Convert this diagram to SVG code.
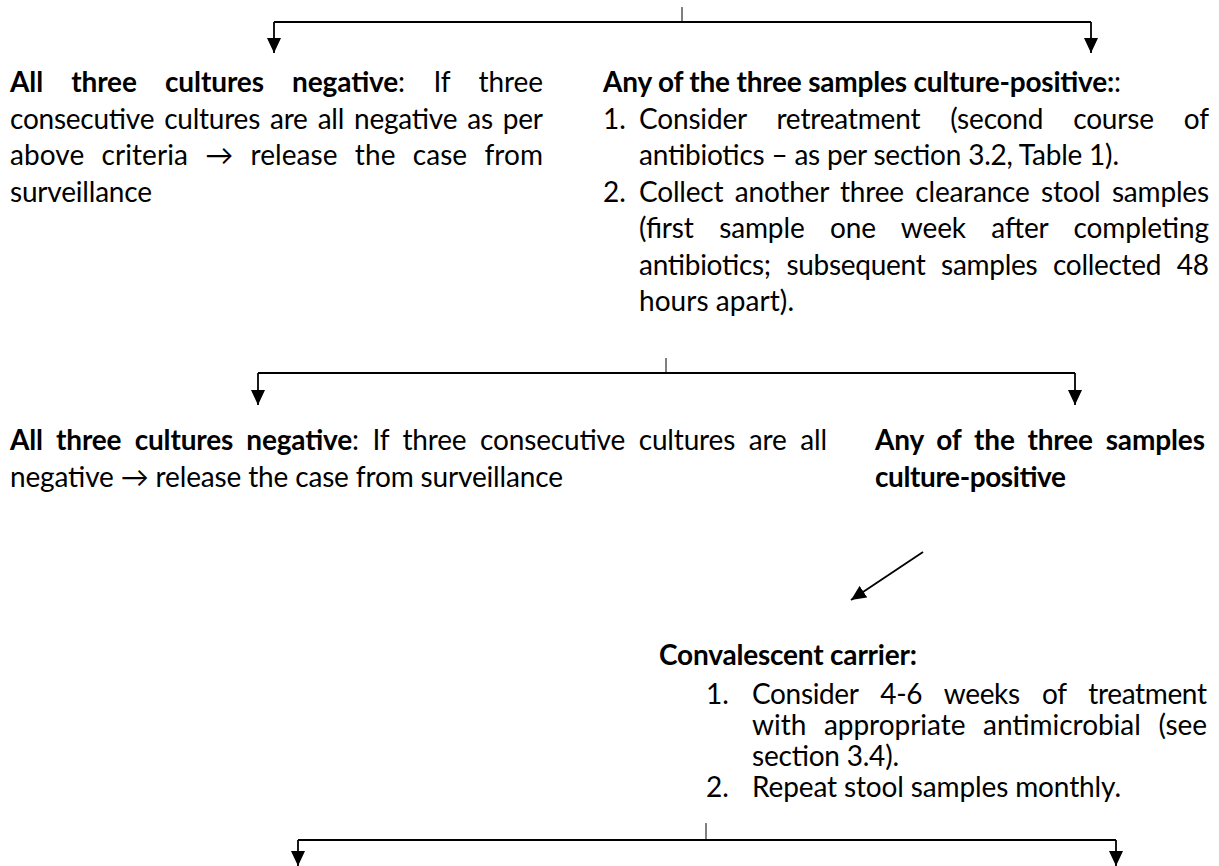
<svg xmlns="http://www.w3.org/2000/svg" width="1219" height="866" viewBox="0 0 1219 866">
<defs>
<marker id="ah" viewBox="0 0 15 14" refX="15" refY="7" markerWidth="15" markerHeight="14" markerUnits="userSpaceOnUse" orient="auto">
<path d="M0,0 L15,7 L0,14 z" fill="#000"/>
</marker>
<style>
.t{font-family:Lato,'DejaVu Sans',sans-serif;font-size:28px;fill:#000}
.b{font-weight:bold}
.c{stroke:#000;stroke-width:1.8;fill:none}
.k{stroke:#000;stroke-width:1;fill:none}
</style>
</defs>
<rect width="1219" height="866" fill="#fff"/>
<g id="connectors">
<line class="k" x1="682" y1="7" x2="682" y2="22"/>
<path class="c" d="M274,22 H1091"/>
<path class="c" d="M274,22 V53" marker-end="url(#ah)"/>
<path class="c" d="M1091,22 V53" marker-end="url(#ah)"/>
<line class="k" x1="666" y1="358" x2="666" y2="373"/>
<path class="c" d="M258,373 H1075"/>
<path class="c" d="M258,373 V405" marker-end="url(#ah)"/>
<path class="c" d="M1075,373 V405" marker-end="url(#ah)"/>
<path class="c" d="M923,552 L851,600" marker-end="url(#ah)"/>
<line class="k" x1="706" y1="823" x2="706" y2="840"/>
<path class="c" d="M298,840 H1116"/>
<path class="c" d="M298,840 V866" marker-end="url(#ah)"/>
<path class="c" d="M1116,840 V866" marker-end="url(#ah)"/>
</g>
<g id="node-neg1">
<text class="t" x="10" y="92" textLength="533" lengthAdjust="spacing" word-spacing="21.5"><tspan class="b">All three cultures negative</tspan>: If three</text>
<text class="t" x="10" y="128.5" textLength="533" lengthAdjust="spacing" word-spacing="3.1">consecutive cultures are all negative as per</text>
<text class="t" x="10" y="165" textLength="533" lengthAdjust="spacing" word-spacing="10">above criteria → release the case from</text>
<text class="t" x="10" y="201.5" textLength="142" lengthAdjust="spacing">surveillance</text>
</g>
<g id="node-pos1">
<text class="t" x="603" y="92" textLength="518" lengthAdjust="spacing"><tspan class="b">Any of the three samples culture-positive:</tspan>:</text>
<text class="t" x="603" y="128.5">1.</text>
<text class="t" x="639" y="128.5" textLength="570" lengthAdjust="spacing" word-spacing="23">Consider retreatment (second course of</text>
<text class="t" x="639" y="165" textLength="480" lengthAdjust="spacing">antibiotics – as per section 3.2, Table 1).</text>
<text class="t" x="603" y="201.5">2.</text>
<text class="t" x="639" y="201.5" textLength="570" lengthAdjust="spacing" word-spacing="4.5">Collect another three clearance stool samples</text>
<text class="t" x="639" y="238" textLength="570" lengthAdjust="spacing" word-spacing="18.4">(first sample one week after completing</text>
<text class="t" x="639" y="274.5" textLength="570" lengthAdjust="spacing" word-spacing="8.7">antibiotics; subsequent samples collected 48</text>
<text class="t" x="639" y="311" textLength="155" lengthAdjust="spacing">hours apart).</text>
</g>
<g id="node-neg2">
<text class="t" x="10" y="450" textLength="817" lengthAdjust="spacing" word-spacing="6.6"><tspan class="b">All three cultures negative</tspan>: If three consecutive cultures are all</text>
<text class="t" x="10" y="486.5" textLength="553" lengthAdjust="spacing">negative → release the case from surveillance</text>
</g>
<g id="node-pos2">
<text class="t b" x="875" y="450" textLength="330" lengthAdjust="spacing" word-spacing="6">Any of the three samples</text>
<text class="t b" x="875" y="486.5" textLength="191" lengthAdjust="spacing">culture-positive</text>
</g>
<g id="node-carrier">
<text class="t b" x="659" y="665" textLength="258" lengthAdjust="spacing">Convalescent carrier:</text>
<text class="t" x="706" y="704">1.</text>
<text class="t" x="752" y="704" textLength="455" lengthAdjust="spacing" word-spacing="15.4">Consider 4-6 weeks of treatment</text>
<text class="t" x="752" y="735" textLength="455" lengthAdjust="spacing" word-spacing="10.6">with appropriate antimicrobial (see</text>
<text class="t" x="752" y="766" textLength="147" lengthAdjust="spacing">section 3.4).</text>
<text class="t" x="706" y="797">2.</text>
<text class="t" x="752" y="797" textLength="369" lengthAdjust="spacing">Repeat stool samples monthly.</text>
</g>
</svg>
